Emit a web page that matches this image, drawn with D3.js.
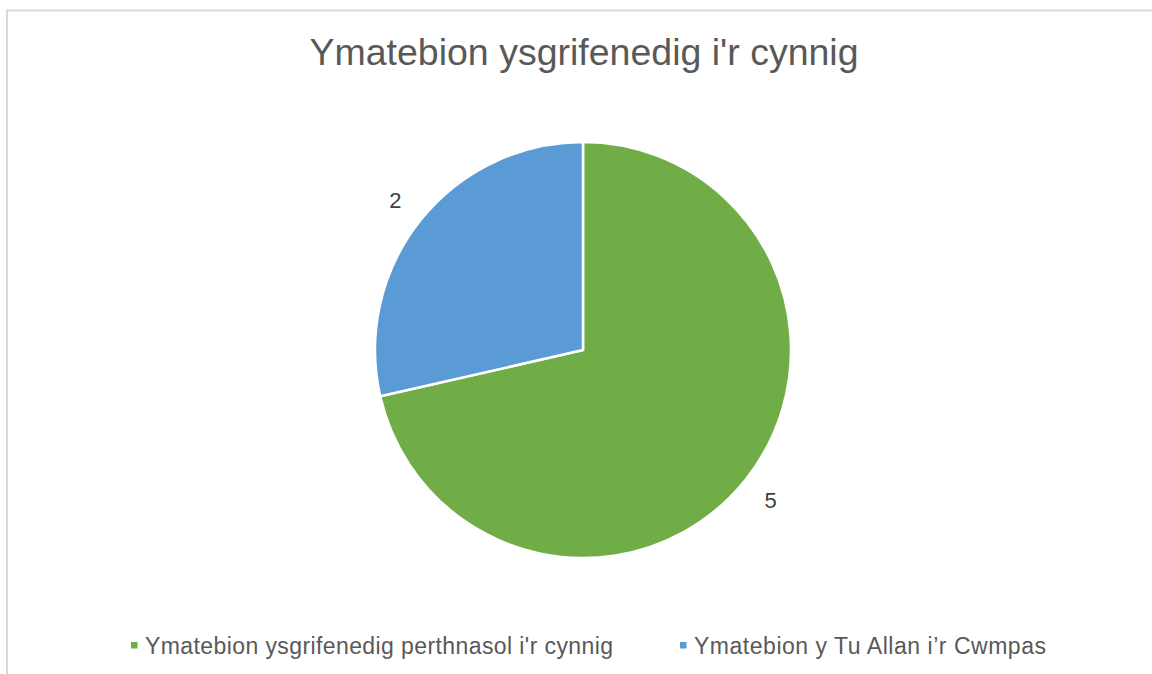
<!DOCTYPE html>
<html><head><meta charset="utf-8">
<script src="https://cdn.jsdelivr.net/npm/d3@7"></script>
<style>body{margin:0;background:#fff;}svg{display:block;font-family:"Liberation Sans",Arial,sans-serif;}</style>
</head><body>
<svg id="chart" width="1152" height="674"></svg>
<script>
const title = "Ymatebion ysgrifenedig i'r cynnig";
const categories = ["Ymatebion ysgrifenedig perthnasol i'r cynnig", "Ymatebion y Tu Allan i\u2019r Cwmpas"];
const values = [5, 2];
const colors = ["#70ad47", "#5b9bd5"];

const svg = d3.select("#chart");
svg.append("rect").attr("x", 7).attr("y", 10.5).attr("width", 1160).attr("height", 680)
  .attr("fill", "#fff").attr("stroke", "#d9d9d9").attr("stroke-width", 2);

svg.append("text").attr("x", 584).attr("y", 65).attr("text-anchor", "middle")
  .attr("font-size", 37.5).attr("fill", "#595959").text(title);

const cx = 583, cy = 350, r = 208;
const pie = d3.pie().sort(null).value(d => d)(values);
const arc = d3.arc().innerRadius(0).outerRadius(r);
const labelArc = d3.arc().innerRadius(240).outerRadius(240);
const g = svg.append("g").attr("transform", `translate(${cx},${cy})`);
g.selectAll("path").data(pie).join("path")
  .attr("d", arc).attr("fill", (d, i) => colors[i])
  .attr("stroke", "#fff").attr("stroke-width", 2.5).attr("stroke-linejoin", "round");
g.selectAll("text").data(pie).join("text")
  .attr("transform", d => `translate(${labelArc.centroid(d)})`)
  .attr("text-anchor", "middle").attr("dy", "0.36em")
  .attr("font-size", 22).attr("fill", "#404040").text(d => d.value);

const legendX = [131, 680];
const legendW = [468, 352];
const lg = svg.append("g");
categories.forEach((c, i) => {
  lg.append("rect").attr("x", legendX[i]).attr("y", 642).attr("width", 6.5).attr("height", 6.5).attr("fill", colors[i]);
  lg.append("text").attr("x", legendX[i] + 14).attr("y", 654).attr("font-size", 23)
    .attr("textLength", legendW[i]).attr("lengthAdjust", "spacing")
    .attr("fill", "#595959").text(c);
});
</script>
</body></html>
